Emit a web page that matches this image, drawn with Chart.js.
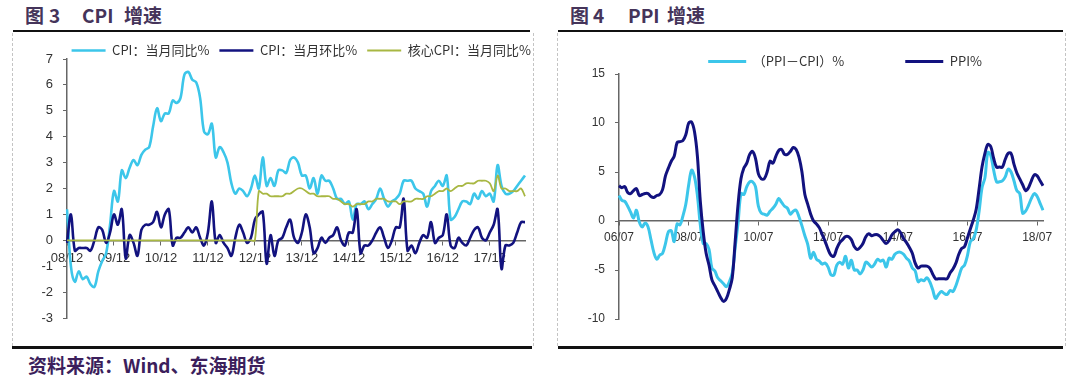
<!DOCTYPE html>
<html>
<head>
<meta charset="utf-8">
<script src="https://cdn.jsdelivr.net/npm/chart.js@4.4.1/dist/chart.umd.min.js"></script>
<style>
  html, body { margin: 0; padding: 0; background: #fff; }
  body { width: 1080px; height: 387px; position: relative; overflow: hidden; font-family: "Noto Sans CJK SC", sans-serif; }
  .title { position: absolute; top: 3px; font-size: 19px; font-weight: bold; color: #45345a; white-space: pre; line-height: 24px; }
  .rule { position: absolute; background: #111; }
  .dash { position: absolute; top: 33px; height: 313px; width: 0; border-left: 1px dashed #c4c4c4; }
  .box { position: absolute; top: 32px; height: 315px; }
  .source { position: absolute; left: 28px; top: 353px; font-size: 19px; font-weight: bold; color: #3c1f5c; line-height: 24px; }
</style>
</head>
<body>
<div class="title" style="left:25px">图</div>
<div class="title" style="left:49px">3</div>
<div class="title" style="left:82px">CPI</div>
<div class="title" style="left:124px">增速</div>
<div class="title" style="left:570px">图</div>
<div class="title" style="left:593px">4</div>
<div class="title" style="left:628px">PPI</div>
<div class="title" style="left:667px">增速</div>

<div class="rule" style="left:13px; top:30px; width:517px; height:2px"></div>
<div class="rule" style="left:558px; top:30px; width:505px; height:2px"></div>
<div class="rule" style="left:12px; top:346px; width:520px; height:3px"></div>
<div class="rule" style="left:558px; top:346px; width:505px; height:3px"></div>

<div class="dash" style="left:12px"></div>
<div class="dash" style="left:533px"></div>
<div class="dash" style="left:557px"></div>
<div class="dash" style="left:1065px"></div>

<div class="box" style="left:12px; width:529px"><canvas id="chartCpi"></canvas></div>
<div class="box" style="left:557px; width:508px"><canvas id="chartPpi"></canvas></div>

<div class="source">资料来源：Wind、东海期货</div>

<script>
// 图3: monthly, 2008/12 .. 2018/09
const cpiStart = [2008, 12];
const cpiTickLabels = ["08/12", "09/12", "10/12", "11/12", "12/12", "13/12", "14/12", "15/12", "16/12", "17/12"];
const cpiYoy = [
    1.2,
    -1.0, -1.6, -1.2, -1.5, -1.4, -1.7, -1.8, -1.2, -0.8, -0.5, 0.6, 1.9,
    1.5, 2.7, 2.4, 2.8, 3.1, 2.9, 3.3, 3.5, 3.6, 4.4, 5.1, 4.6,
    4.9, 4.9, 5.4, 5.3, 5.5, 6.4, 6.5, 6.2, 6.1, 5.5, 4.2, 4.1,
    4.5, 3.2, 3.6, 3.4, 3.0, 2.2, 1.8, 2.0, 1.9, 1.7, 2.0, 2.5,
    2.0, 3.2, 2.1, 2.4, 2.1, 2.7, 2.7, 2.6, 3.1, 3.2, 3.0, 2.5,
    2.5, 2.0, 2.4, 1.8, 2.5, 2.3, 2.3, 2.0, 1.6, 1.6, 1.4, 1.5,
    0.8, 1.4, 1.4, 1.5, 1.2, 1.4, 1.6, 2.0, 1.6, 1.3, 1.5, 1.6,
    1.8, 2.3, 2.3, 2.3, 2.0, 1.9, 1.8, 1.3, 1.9, 2.1, 2.3, 2.1,
    2.5, 0.8, 0.9, 1.2, 1.5, 1.5, 1.4, 1.8, 1.6, 1.9, 1.7, 1.8,
    1.5, 2.9, 2.1, 1.8, 1.8, 1.9, 2.1, 2.3, 2.5
];
const cpiMom = [
    -0.1,
    1.0, -0.4, -0.3, -0.3, -0.3, -0.4, 0.0, 0.5, 0.4, -0.1, 0.3, 1.0,
    0.6, 1.2, -0.7, 0.2, -0.1, -0.6, 0.4, 0.6, 0.6, 0.7, 1.1, 0.5,
    1.0, 1.2, -0.2, 0.1, 0.1, 0.3, 0.5, 0.3, 0.5, 0.1, -0.2, 0.3,
    1.5, -0.1, 0.2, -0.1, -0.3, -0.6, 0.1, 0.6, 0.3, -0.1, 0.1, 0.8,
    1.0, 1.1, -0.9, 0.2, -0.6, 0.0, 0.1, 0.5, 0.8, 0.1, -0.1, 0.3,
    1.0, 0.5, -0.5, -0.3, 0.1, -0.1, 0.1, 0.2, 0.5, 0.0, -0.2, 0.3,
    0.3, 1.2, -0.5, -0.2, -0.2, 0.0, 0.3, 0.5, 0.1, -0.3, 0.0, 0.5,
    0.5, 1.6, -0.4, -0.2, -0.5, -0.1, 0.2, 0.1, 0.7, -0.1, 0.1, 0.2,
    1.0, -0.2, -0.3, 0.1, -0.1, -0.2, 0.1, 0.4, 0.5, 0.1, 0.0, 0.3,
    0.6, 1.2, -1.1, -0.2, -0.2, -0.1, 0.3, 0.7, 0.7
];
const coreCpiYoy = [
    0,
    0, 0, 0, 0, 0, 0, 0, 0, 0, 0, 0, 0,
    0, 0, 0, 0, 0, 0, 0, 0, 0, 0, 0, 0,
    0, 0, 0, 0, 0, 0, 0, 0, 0, 0, 0, 0,
    0, 0, 0, 0, 0, 0, 0, 0, 0, 0, 0, 0,
    1.9, 1.8, 1.8, 1.7, 1.7, 1.7, 1.7, 1.8, 1.8, 1.9, 2.0, 2.0,
    1.9, 1.8, 1.8, 1.7, 1.7, 1.7, 1.7, 1.6, 1.6, 1.5, 1.4, 1.4,
    1.3, 1.4, 1.4, 1.4, 1.5, 1.5, 1.6, 1.6, 1.6, 1.5, 1.5, 1.5,
    1.4, 1.5, 1.5, 1.5, 1.6, 1.6, 1.6, 1.7, 1.7, 1.8, 1.9, 1.9,
    2.0, 1.9, 2.0, 2.1, 2.1, 2.2, 2.2, 2.2, 2.3, 2.3, 2.3, 2.2,
    1.9, 2.5, 2.0, 2.0, 1.9, 1.9, 1.9, 2.0, 1.7
];

// 图4: monthly, 2006/07 .. 2018/09
const ppiStart = [2006, 7];
const ppiTickLabels = ["06/07", "08/07", "10/07", "12/07", "14/07", "16/07", "18/07"];
const ppiMinusCpi = [
    2.6, 2.1, 2.0, 1.5, 0.9, 0.3,
    1.1, -0.1, -0.6, -0.2, -0.6, -1.9, -3.2, -3.9, -3.5, -3.3, -2.3, -1.1,
    -1.0, -2.1, -0.3, -0.4, 0.5, 1.7, 3.7, 5.2, 4.5, 2.6, -0.4, -2.3,
    -2.3, -2.9, -4.8, -5.1, -5.8, -6.1, -6.4, -6.7, -6.2, -5.3, -2.7, -0.2,
    2.8, 2.7, 3.5, 4.0, 4.0, 3.5, 1.5, 0.8, 0.7, 0.6, 1.0, 1.3,
    1.7, 2.3, 1.9, 1.5, 1.3, 0.7, 1.0, 1.1, 0.4, -0.5, -1.5, -2.4,
    -3.8, -3.2, -3.9, -4.1, -4.4, -4.3, -4.7, -5.5, -5.5, -4.5, -4.2, -4.4,
    -3.6, -4.8, -4.0, -5.0, -5.0, -5.4, -5.0, -4.2, -4.4, -4.7, -4.4, -3.9,
    -4.1, -4.0, -4.7, -3.8, -3.9, -3.4, -3.2, -3.2, -3.4, -3.8, -4.1, -4.8,
    -5.1, -6.2, -6.0, -6.1, -5.8, -6.2, -7.0, -7.9, -7.5, -7.2, -7.4, -7.5,
    -7.1, -7.2, -6.6, -5.7, -4.8, -4.5, -3.5, -2.1, -1.8, -0.9, 1.0, 3.4,
    4.4, 7.0, 6.7, 5.2, 4.0, 4.0, 4.1, 4.5, 5.3, 5.0, 4.1, 3.1,
    2.8, 0.8, 1.0, 1.6, 2.3, 2.8, 2.5, 1.8, 1.1
];
const ppiYoy = [
    3.6, 3.4, 3.5, 2.9, 2.8, 3.1,
    3.3, 2.6, 2.7, 2.8, 2.8, 2.5, 2.4, 2.6, 2.7, 3.2, 4.6, 5.4,
    6.1, 6.6, 8.0, 8.1, 8.2, 8.8, 10.0, 10.1, 9.1, 6.6, 2.0, -1.1,
    -3.3, -4.5, -6.0, -6.6, -7.2, -7.8, -8.2, -7.9, -7.0, -5.8, -2.1, 1.7,
    4.3, 5.4, 5.9, 6.8, 7.1, 6.4, 4.8, 4.3, 4.3, 5.0, 6.1, 5.9,
    6.6, 7.2, 7.3, 6.8, 6.8, 7.1, 7.5, 7.3, 6.5, 5.0, 2.7, 1.7,
    0.7, 0.0, -0.3, -0.7, -1.4, -2.1, -2.9, -3.5, -3.6, -2.8, -2.2, -1.9,
    -1.6, -1.6, -1.9, -2.6, -2.9, -2.7, -2.3, -1.6, -1.3, -1.5, -1.4, -1.4,
    -1.6, -2.0, -2.3, -2.0, -1.4, -1.1, -0.9, -1.2, -1.8, -2.2, -2.7, -3.3,
    -4.3, -4.8, -4.6, -4.6, -4.6, -4.8, -5.4, -5.9, -5.9, -5.9, -5.9, -5.9,
    -5.3, -4.9, -4.3, -3.4, -2.8, -2.6, -1.7, -0.8, 0.1, 1.2, 3.3, 5.5,
    6.9, 7.8, 7.6, 6.4, 5.5, 5.5, 5.5, 6.3, 6.9, 6.9, 5.8, 4.9,
    4.3, 3.7, 3.1, 3.4, 4.1, 4.7, 4.6, 4.1, 3.6
];

const CYAN = "#3cc6ea";
const NAVY = "#12127f";
const OLIVE = "#a8b742";
const AXIS = "#666";
const tickFont = "Liberation Sans, Arial, sans-serif";
const legendFont = "Noto Sans CJK SC, sans-serif";
const GAP = "\u3000\u3000\u3000";

// "YY/MM" month labels for the category axis
function monthLabels(start, n) {
    let year = start[0], month = start[1];
    let out = [];
    for (let i = 0; i < n; i++) {
        out.push(String(year % 100).padStart(2, "0") + "/" + String(month).padStart(2, "0"));
        month++;
        if (month > 12) { month = 1; year++; }
    }
    return out;
}

function xScale(tickLabels, fontSize, pad) {
    return {
        type: "category",
        position: {y: 0},
        offset: false,
        afterFit: function (s) { s.height = 0; },
        border: {display: true, color: AXIS, width: 1.5},
        grid: {
            drawOnChartArea: false,
            drawTicks: true,
            tickLength: 4,
            color: function (c) { return (c.tick && tickLabels.includes(c.tick.label)) ? AXIS : "rgba(0,0,0,0)"; }
        },
        ticks: {
            autoSkip: false,
            maxRotation: 0,
            minRotation: 0,
            padding: pad,
            color: "#333",
            font: {family: tickFont, size: fontSize},
            callback: function (val) {
                let l = this.getLabelForValue(val);
                return tickLabels.includes(l) ? l : "";
            }
        }
    };
}

function yScale(min, max, step, fontSize, width) {
    return {
        min: min,
        max: max,
        afterFit: function (s) { s.width = width; },
        border: {display: true, color: AXIS, width: 1.5},
        grid: {drawOnChartArea: false, drawTicks: true, tickLength: 4, color: AXIS},
        ticks: {stepSize: step, padding: 10, color: "#333", font: {family: tickFont, size: fontSize}}
    };
}

function line(label, data, color, width, order) {
    return {
        label: label,
        data: data,
        borderColor: color,
        backgroundColor: color,
        borderWidth: width,
        pointRadius: 0,
        tension: 0.35,
        order: order
    };
}

var chartCpi = new Chart(document.getElementById("chartCpi"), {
    type: "line",
    data: {
        labels: monthLabels(cpiStart, cpiYoy.length),
        datasets: [
            line("CPI：当月同比%", cpiYoy, CYAN, 2.6, 2),
            line("CPI：当月环比%", cpiMom, NAVY, 2.6, 1),
            line("核心CPI：当月同比%", coreCpiYoy, OLIVE, 1.8, 0)
        ]
    },
    options: {
        responsive: true,
        maintainAspectRatio: false,
        animation: false,
        devicePixelRatio: 1,
        layout: {padding: {left: 10, right: 0, top: 2, bottom: 29}},
        scales: {
            x: xScale(cpiTickLabels, 13, 6),
            y: yScale(-3, 7, 1, 13, 45),
            // empty strip on the right so the legend can run past the plot edge
            yPad: {
                position: "right",
                afterFit: function (s) { s.width = 16; },
                ticks: {display: false},
                grid: {display: false},
                border: {display: false}
            }
        },
        plugins: {
            tooltip: {enabled: false},
            legend: {
                align: "end",
                maxHeight: 25,
                labels: {
                    usePointStyle: true,
                    pointStyle: "line",
                    pointStyleWidth: 34,
                    padding: 10,
                    color: "#333",
                    font: {family: legendFont, size: 13},
                    sort: function (a, b) { return a.datasetIndex - b.datasetIndex; }
                }
            }
        }
    }
});

var chartPpi = new Chart(document.getElementById("chartPpi"), {
    type: "line",
    data: {
        labels: monthLabels(ppiStart, ppiYoy.length),
        datasets: [
            line("（PPI－CPI）%", ppiMinusCpi, CYAN, 3, 1),
            line("PPI%", ppiYoy, NAVY, 3, 0)
        ]
    },
    options: {
        responsive: true,
        maintainAspectRatio: false,
        animation: false,
        devicePixelRatio: 1,
        layout: {padding: {left: 10, right: 22, top: 1, bottom: 28}},
        scales: {
            x: xScale(ppiTickLabels, 12, 5),
            y: yScale(-10, 15, 5, 12, 52)
        },
        plugins: {
            tooltip: {enabled: false},
            legend: {
                fullSize: false,
                align: "end",
                maxHeight: 41,
                labels: {
                    usePointStyle: true,
                    pointStyle: "line",
                    pointStyleWidth: 38,
                    padding: 22,
                    color: "#333",
                    font: {family: legendFont, size: 13},
                    sort: function (a, b) { return a.datasetIndex - b.datasetIndex; },
                    // wide gaps between the items, as in the source
                    generateLabels: function (chart) {
                        let items = Chart.defaults.plugins.legend.labels.generateLabels(chart);
                        items.forEach(function (it) { it.text += GAP; });
                        return items;
                    }
                }
            }
        }
    }
});
</script>
</body>
</html>
